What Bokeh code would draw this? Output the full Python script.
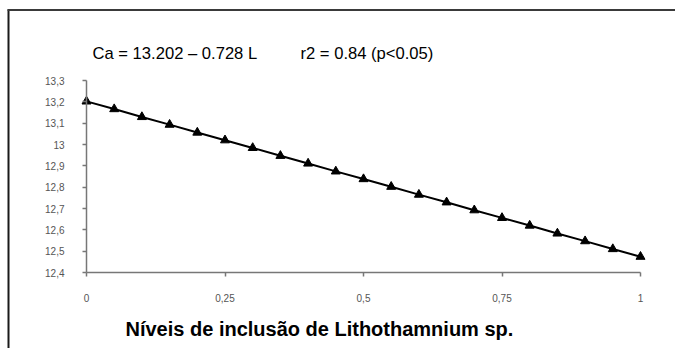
from bokeh.plotting import figure
from bokeh.models import (FixedTicker, CustomJSTickFormatter, Range1d, Label,
                          BoxAnnotation, ColumnDataSource)
from bokeh.embed import file_html
from bokeh.resources import INLINE

# data
levels = [0.0, 0.05, 0.10, 0.15, 0.20, 0.25, 0.30, 0.35, 0.40, 0.45, 0.50,
          0.55, 0.60, 0.65, 0.70, 0.75, 0.80, 0.85, 0.90, 0.95, 1.0]
ca = [13.202, 13.166, 13.129, 13.093, 13.056, 13.020, 12.984, 12.947, 12.911,
      12.874, 12.838, 12.802, 12.765, 12.729, 12.692, 12.656, 12.620, 12.583,
      12.547, 12.510, 12.474]
x_ticks = [0, 0.25, 0.5, 0.75, 1]
y_ticks = [12.4, 12.5, 12.6, 12.7, 12.8, 12.9, 13.0, 13.1, 13.2, 13.3]
eq_text = "Ca = 13.202 \u2013 0.728 L"
r2_text = "r2 = 0.84 (p<0.05)"
x_label = "Níveis de inclusão de Lithothamnium sp."

src = ColumnDataSource(data=dict(x=levels, y=ca))

# the frame covers the whole canvas; axes are pinned at x=0 and y=12.4
W, H = 675, 348
X0, X1 = 86, 640          # pixel positions of x = 0 and x = 1
Y0, Y1 = 272, 80          # pixel positions of y = 12.4 and y = 13.3
sx = (X1 - X0) / 1.0
sy = (Y0 - Y1) / 0.9
p = figure(width=W, height=H, output_backend="svg", toolbar_location=None,
           x_range=Range1d(-X0 / sx, 1 + (W - X1) / sx),
           y_range=Range1d(12.4 - (H - Y0) / sy, 13.3 + Y1 / sy),
           min_border=0)
p.outline_line_color = None
p.grid.visible = False
p.background_fill_color = "white"
p.border_fill_color = "white"

p.line("x", "y", source=src, line_color="black", line_width=2)
p.scatter("x", "y", source=src, marker="triangle", size=9, color="black")

fmt = CustomJSTickFormatter(code="return String(Math.round(tick*100)/100).replace('.', ',');")
for ax, ticks in ((p.xaxis[0], x_ticks), (p.yaxis[0], y_ticks)):
    ax.ticker = FixedTicker(ticks=ticks)
    ax.formatter = fmt
    ax.axis_line_color = "#777777"
    ax.axis_line_width = 1.5
    ax.major_tick_line_color = "#777777"
    ax.major_tick_line_width = 1.5
    ax.major_tick_in = 0
    ax.major_tick_out = 4
    ax.minor_tick_line_color = None
    ax.major_label_text_font = "Liberation Sans"
    ax.major_label_text_font_size = "10px"
    ax.major_label_text_color = "#555555"
p.xaxis.fixed_location = 12.4
p.yaxis.fixed_location = 0
p.xaxis.bounds = (0, 1)
p.yaxis.bounds = (12.4, 13.3)
p.yaxis.major_label_standoff = 18
p.xaxis.major_label_standoff = 17


def px_to_x(px):
    return (px - X0) / sx


def py_to_y(py):
    return 12.4 + (Y0 - py) / sy


for txt, px in ((eq_text, 92), (r2_text, 300)):
    p.add_layout(Label(x=px_to_x(px), y=py_to_y(53), text=txt,
                       text_font="Liberation Sans", text_font_size="16.6px",
                       text_color="black", text_align="left",
                       text_baseline="middle"))

p.add_layout(Label(x=px_to_x(125), y=py_to_y(328), text=x_label,
                   text_font="Liberation Sans", text_font_size="20px",
                   text_font_style="bold", text_color="black",
                   text_align="left", text_baseline="middle"))

# outer frame: only its left and top edges are visible in the picture
for l, r, t, b, c in ((7, 9, 9, H, "#1a1a1a"), (7, W, 8.5, 10.5, "#3a3a3a")):
    p.add_layout(BoxAnnotation(left=l, right=r, top=t, bottom=b,
                               left_units="canvas", right_units="canvas",
                               top_units="canvas", bottom_units="canvas",
                               fill_color=c, fill_alpha=1, line_color=None))

open("out.html", "w").write(file_html(p, INLINE))
